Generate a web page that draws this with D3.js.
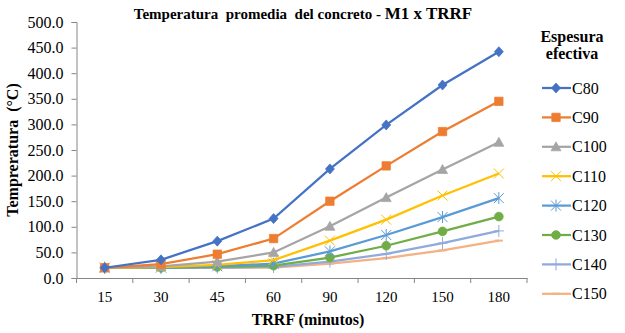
<!DOCTYPE html>
<html><head><meta charset="utf-8">
<script src="https://cdn.jsdelivr.net/npm/d3@7"></script>
<style>body{margin:0;background:#fff}svg{display:block}</style>
</head><body><svg id="c" width="625" height="333"></svg>
<script>
const categories = ["15","30","45","60","90","120","150","180"];
const seriesNames = ["C80","C90","C100","C110","C120","C130","C140","C150"];
const C80  = [20, 35.5, 72, 116, 213, 299, 377, 442];
const C90  = [20, 27, 46.5, 77, 150, 219, 286, 345];
const C100 = [20, 22.5, 32, 50, 101, 157, 212, 265];
const C110 = [20, 21, 25.5, 35, 73, 114, 161, 204];
const C120 = [20, 20.5, 23, 28, 52, 84, 119, 156];
const C130 = [20, 20, 21.5, 24, 40, 63, 91, 120];
const C140 = [20, 20, 20.5, 21.5, 32, 47, 68, 92];
const C150 = [20, 20, 20, 20.5, 28, 39, 54, 73];
const seriesValues = [C80,C90,C100,C110,C120,C130,C140,C150];
const yTicks = [0,50,100,150,200,250,300,350,400,450,500];
const colors = ["#4472C4","#ED7D31","#A5A5A5","#FFC000","#5B9BD5","#70AD47","#8FAADC","#F4B183"];
const markers = ["diamond","square","triangle","x","star","circle","plus","dash"];

const FONT = '"Liberation Serif", "Times New Roman", Times, serif';
const svg = d3.select("#c").style("font-family", FONT);
const x0 = 76.5, x1 = 527, yTop = 22, yBot = 278;
const x = d3.scaleBand().domain(categories).range([x0, x1]);
const y = d3.scaleLinear().domain([0, 500]).range([yBot, yTop]);
const axisColor = "#868686";

const ya = svg.append("g").attr("transform", `translate(${x0},0)`)
  .call(d3.axisLeft(y).tickValues(yTicks).tickFormat(d3.format(".1f")).tickSize(5).tickPadding(8));
const xa = svg.append("g").attr("transform", `translate(0,${yBot})`)
  .call(d3.axisBottom(x).tickSize(0).tickPadding(13));
[ya, xa].forEach(g => {
  g.attr("font-family", FONT).attr("font-size", 15);
  g.select(".domain").attr("stroke", axisColor).attr("stroke-width", 1);
  g.selectAll(".tick line").attr("stroke", axisColor);
  g.selectAll("text").attr("fill", "#000");
});
ya.attr("font-size", 16);
xa.selectAll(".bt").data(categories.concat(["end"])).enter().append("line")
  .attr("x1", (d,i) => x0 + i * x.bandwidth()).attr("x2", (d,i) => x0 + i * x.bandwidth())
  .attr("y1", 0).attr("y2", 5).attr("stroke", axisColor);

function markerPath(type) {
  switch (type) {
    case "diamond": return "M0,-5L4.5,0L0,5L-4.5,0Z";
    case "square": return "M-4.2,-4.2H4.2V4.2H-4.2Z";
    case "triangle": return "M0,-5L5,4L-5,4Z";
    case "circle": return d3.symbol(d3.symbolCircle, 60)();
    case "x": return "M-5,-5L5,5M-5,5L5,-5";
    case "star": return "M-5,-5L5,5M-5,5L5,-5M0,-6L0,6";
    case "plus": return "M-5,0L5,0M0,-6L0,6";
    case "dash": return "M-4,0L4,0";
  }
}
const filled = t => ["diamond","square","triangle","circle"].includes(t);

const line = d3.line().x((d,i) => x(categories[i]) + x.bandwidth()/2).y(d => y(d));

for (let s = seriesValues.length - 1; s >= 0; s--) {
  const g = svg.append("g");
  g.append("path").datum(seriesValues[s]).attr("d", line)
    .attr("fill", "none").attr("stroke", colors[s]).attr("stroke-width", 2.25);
  g.selectAll(".m").data(seriesValues[s]).enter().append("path")
    .attr("transform", (d,i) => `translate(${x(categories[i]) + x.bandwidth()/2},${y(d)})`)
    .attr("d", markerPath(markers[s]))
    .attr("fill", filled(markers[s]) ? colors[s] : "none")
    .attr("stroke", colors[s]).attr("stroke-width", filled(markers[s]) ? 0.75 : (markers[s]==="dash"?2:1));
}

svg.append("text").attr("x", 572).attr("y", 42).attr("text-anchor", "middle")
  .attr("font-size", 16).attr("font-weight", "bold").text("Espesura");
svg.append("text").attr("x", 572).attr("y", 59).attr("text-anchor", "middle")
  .attr("font-size", 16).attr("font-weight", "bold").text("efectiva");
seriesNames.forEach((n, i) => {
  const ly = 88 + i * 29.4;
  const g = svg.append("g");
  g.append("line").attr("x1", 542).attr("x2", 571).attr("y1", ly).attr("y2", ly)
    .attr("stroke", colors[i]).attr("stroke-width", 2.25);
  g.append("path").attr("transform", `translate(556,${ly})`).attr("d", markerPath(markers[i]))
    .attr("fill", filled(markers[i]) ? colors[i] : "none").attr("stroke", colors[i])
    .attr("stroke-width", filled(markers[i]) ? 0.75 : (markers[i]==="dash"?2:1));
  g.append("text").attr("x", 572).attr("y", ly + 5.5).attr("font-size", 16).text(n);
});

const t = svg.append("text").attr("x", 303).attr("y", 19).attr("text-anchor", "middle")
  .attr("font-weight", "bold").attr("xml:space","preserve");
t.append("tspan").attr("font-size", 15).text("Temperatura  promedia  del concreto - ");
t.append("tspan").attr("font-size", 17).text("M1 x TRRF");
svg.append("text").attr("x", 308).attr("y", 325).attr("text-anchor", "middle")
  .attr("font-size", 16).attr("font-weight", "bold").text("TRRF (minutos)");
svg.append("text").attr("transform", "translate(18,150) rotate(-90)").attr("text-anchor", "middle")
  .attr("font-size", 16).attr("font-weight", "bold").attr("xml:space","preserve")
  .text("Tempreratura  (°C)");
</script></body></html>
